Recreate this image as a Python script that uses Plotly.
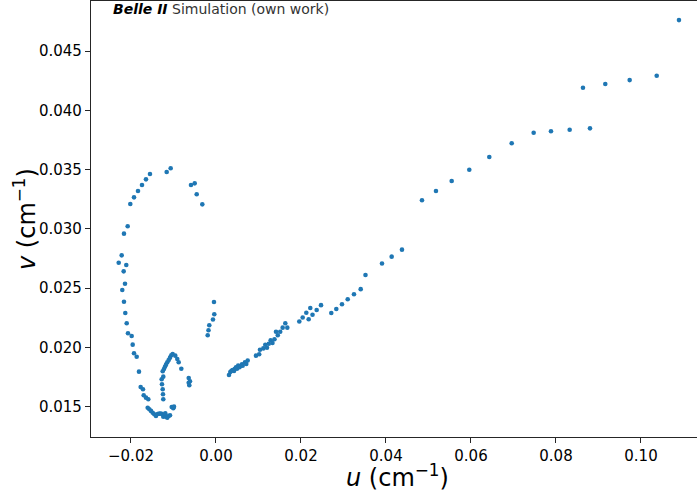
import plotly.graph_objects as go

# u values (cm^-1)
u_vals = [
    -0.01066, -0.0116, -0.01553, -0.01647, -0.01741, -0.01835, -0.01929, -0.02016,
    -0.00588, -0.00501, -0.00454, -0.00322,
    -0.02078, -0.02165, -0.02219, -0.02289, -0.02111, -0.02172, -0.02141, -0.02205,
    -0.02165, -0.02134, -0.02101, -0.02071, -0.01984, -0.0196, -0.01929, -0.01866,
    -0.01812, -0.01772, -0.01718, -0.01701, -0.01647, -0.01593,
    -0.01607, -0.01569, -0.0153, -0.01489, -0.01452, -0.01412, -0.01372, -0.01334,
    -0.01294, -0.01254, -0.0124, -0.01207, -0.01176, -0.01146, -0.01113, -0.01082,
    -0.01193, -0.01042, -0.01005, -0.00988,
    -0.0124, -0.01247, -0.01254, -0.01271, -0.01278, -0.0124, -0.01254, -0.01224,
    -0.012, -0.01176, -0.01146, -0.01113, -0.01082, -0.01052, -0.01019, -0.00958,
    -0.00911, -0.00878, -0.00816, -0.00642, -0.00612, -0.00642, -0.00628,
    -0.00047, -0.0004, -0.00071, -0.00158, -0.00176, -0.00195,
    0.00306, 0.00336, 0.00365, 0.00393, 0.00424, 0.00445, 0.00471, 0.00494,
    0.00522, 0.00553, 0.00576, 0.00612, 0.00628, 0.00682, 0.00713, 0.00746,
    0.00941, 0.01016, 0.01035, 0.01113, 0.0116, 0.012, 0.01242, 0.01287,
    0.01329, 0.01376, 0.01412, 0.01454, 0.01511, 0.01569, 0.01631, 0.01678,
    0.0196, 0.0204, 0.02125, 0.02181, 0.02219, 0.02271, 0.02369, 0.02471,
    0.02713, 0.02831, 0.02965, 0.03099, 0.03247, 0.03405, 0.03518, 0.03906,
    0.04134, 0.04376, 0.04847, 0.05176, 0.05546, 0.0596, 0.06431, 0.06958,
    0.07475, 0.07882, 0.08322, 0.088, 0.08635, 0.0916, 0.09734, 0.1037, 0.10894,
]

# v values (cm^-1)
v_vals = [
    0.03511, 0.0348, 0.03463, 0.03418, 0.0337, 0.0332, 0.03266, 0.0321,
    0.0337, 0.03384, 0.03292, 0.03207,
    0.03022, 0.0296, 0.02777, 0.02715, 0.02696, 0.02642, 0.02538, 0.02485,
    0.02386, 0.02291, 0.02204, 0.0212, 0.02097, 0.02024, 0.01951, 0.01922,
    0.01796, 0.01667, 0.01648, 0.01597, 0.01577, 0.01563,
    0.01492, 0.01479, 0.01465, 0.0145, 0.01437, 0.01422, 0.01439, 0.01442,
    0.01442, 0.01437, 0.01416, 0.01431, 0.01416, 0.01408, 0.01422, 0.01428,
    0.01445, 0.01498, 0.01487, 0.01501,
    0.01563, 0.01605, 0.01648, 0.0169, 0.01732, 0.01754, 0.01799, 0.01819,
    0.01838, 0.01855, 0.01875, 0.01895, 0.01914, 0.01934, 0.01945, 0.01931,
    0.01903, 0.01875, 0.01821, 0.01743, 0.01715, 0.01703, 0.01681,
    0.02384, 0.0228, 0.02236, 0.02187, 0.02145, 0.02103,
    0.01768, 0.01793, 0.01804, 0.0181, 0.01802, 0.0182, 0.01833, 0.01821,
    0.01848, 0.01833, 0.01844, 0.01858, 0.01846, 0.01875, 0.01861, 0.0189,
    0.01931, 0.01943, 0.01981, 0.01992, 0.02023, 0.01998, 0.02031, 0.02061,
    0.02038, 0.02069, 0.02132, 0.02103, 0.02133, 0.02167, 0.02204, 0.02167,
    0.02219, 0.02253, 0.02293, 0.02238, 0.02333, 0.02276, 0.02316, 0.02357,
    0.02291, 0.02325, 0.02364, 0.02407, 0.02449, 0.02492, 0.02611, 0.02708,
    0.02766, 0.02825, 0.03241, 0.0332, 0.03404, 0.03499, 0.03606, 0.03722,
    0.03811, 0.03823, 0.03836, 0.03848, 0.04191, 0.04222, 0.04255, 0.04292, 0.04761,
]

x_ticks = [-0.02, 0.0, 0.02, 0.04, 0.06, 0.08, 0.10]
x_tick_labels = ["\u22120.02", "0.00", "0.02", "0.04", "0.06", "0.08", "0.10"]
y_ticks = [0.015, 0.020, 0.025, 0.030, 0.035, 0.040, 0.045]
y_tick_labels = ["0.015", "0.020", "0.025", "0.030", "0.035", "0.040", "0.045"]

x_title = "<i>u</i> (cm<sup>\u22121</sup>)"
y_title = "<i>v</i> (cm<sup>\u22121</sup>)"
label_text = "<b><i>Belle II</i></b><span style='color:#333333'> Simulation (own work)</span>"

FONT = "DejaVu Sans"
AX = "#262626"

fig = go.Figure()
fig.add_trace(go.Scatter(
    x=u_vals, y=v_vals, mode="markers",
    marker=dict(color="#1f77b4", size=4.6, line=dict(width=0)),
    showlegend=False,
))

fig.update_layout(
    width=697, height=491,
    margin=dict(l=91, r=0, t=1, b=54),
    paper_bgcolor="white", plot_bgcolor="white",
    font=dict(family=FONT, color="black"),
    xaxis=dict(
        range=[-0.02941, 0.11318],
        tickvals=x_ticks, ticktext=x_tick_labels,
        tickfont=dict(size=15, family=FONT, color="black"),
        ticks="outside", ticklen=5, tickwidth=1, tickcolor=AX,
        showline=True, linecolor=AX, linewidth=1.2, mirror=True,
        showgrid=False, zeroline=False,
    ),
    yaxis=dict(
        range=[0.01245, 0.04922],
        tickvals=y_ticks, ticktext=y_tick_labels,
        tickfont=dict(size=15, family=FONT, color="black"),
        ticks="outside", ticklen=5, tickwidth=1, tickcolor=AX,
        showline=True, linecolor=AX, linewidth=1.2, mirror=False,
        showgrid=False, zeroline=False,
    ),
    annotations=[
        dict(
            xref="paper", yref="paper", x=0.033, y=1.0, yshift=2,
            xanchor="left", yanchor="top", showarrow=False,
            text=label_text,
            font=dict(size=14, family=FONT, color="black"),
        ),
        dict(
            xref="paper", yref="paper", x=0.505, y=-0.081, yshift=-4,
            xanchor="center", yanchor="middle", showarrow=False,
            text=x_title,
            font=dict(size=24, family=FONT, color="black"),
        ),
        dict(
            xref="paper", yref="paper", x=-0.1089, y=0.5,
            xanchor="center", yanchor="middle", showarrow=False,
            textangle=-90,
            text=y_title,
            font=dict(size=24, family=FONT, color="black"),
        ),
    ],
)

fig.write_html("out.html")
